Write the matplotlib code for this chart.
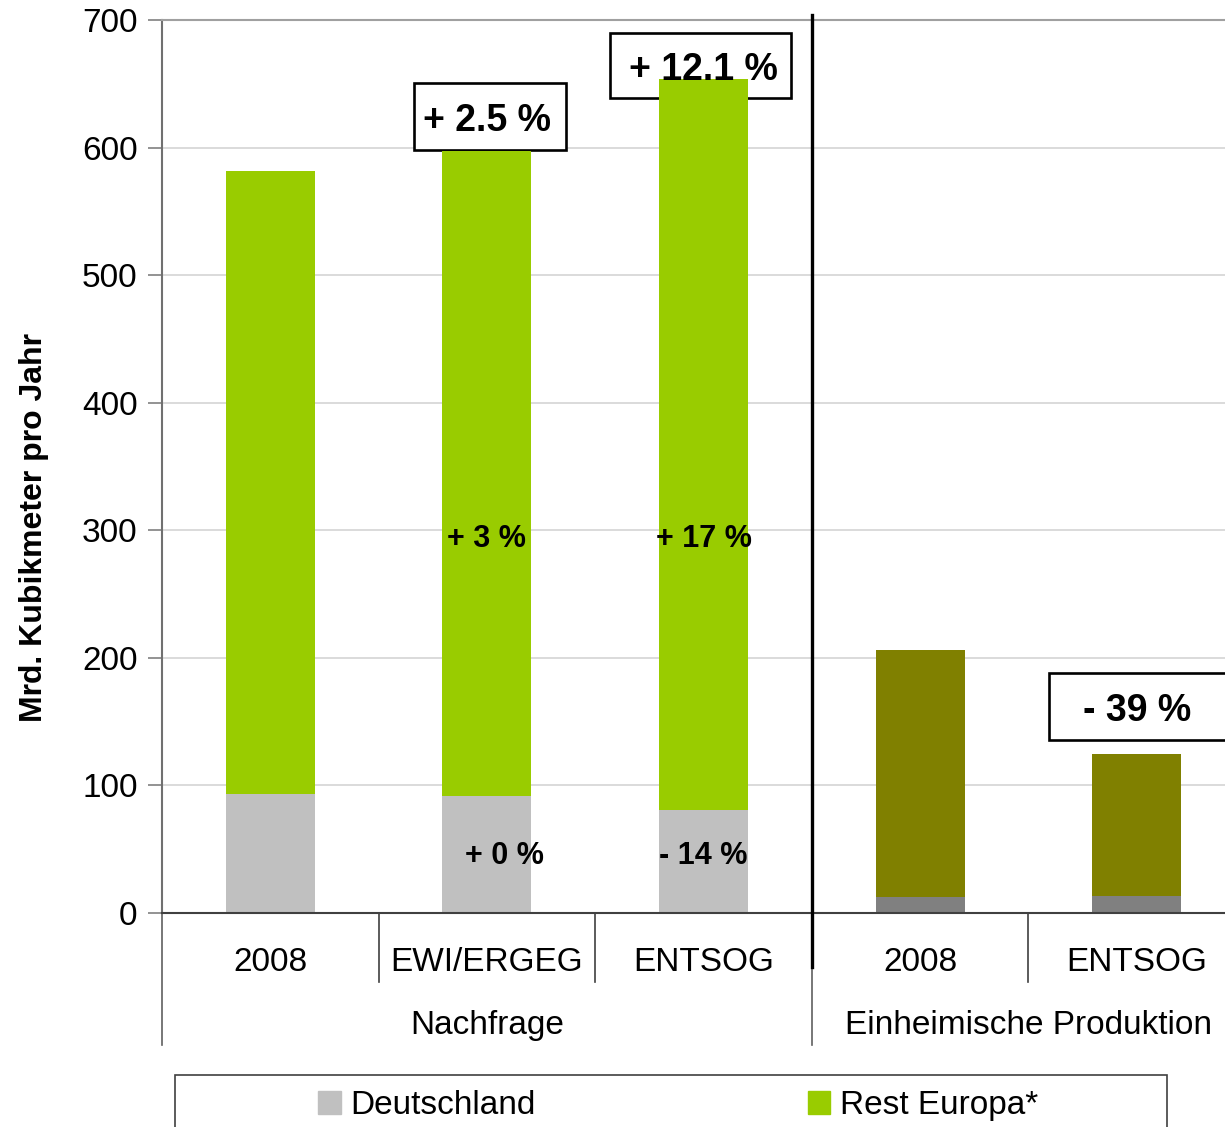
import matplotlib
matplotlib.use("Agg")
import matplotlib.pyplot as plt
from matplotlib.patches import Rectangle, Patch
import matplotlib.transforms as mtransforms

plt.rcParams['font.family'] = ['Liberation Sans', 'DejaVu Sans']

# ---------------- data ----------------
categories = ["2008", "EWI/ERGEG", "ENTSOG", "2008", "ENTSOG"]
groups = ["Nachfrage", "Einheimische Produktion"]
group_centers = [1.0, 3.5]
deutschland = [93.5, 92, 80.5, 12.5, 13.5]
rest_europa = [488, 505, 573, 193.5, 111]
total_labels = ["", "+ 2.5 %", "+ 12.1 %", "", "- 39 %"]
rest_labels = ["", "+ 3 %", "+ 17 %", "", ""]
de_labels = ["", "+ 0 %", "- 14 %", "", ""]

col_de = ["#C0C0C0", "#C0C0C0", "#C0C0C0", "#808080", "#808080"]
col_rest = ["#99CC00", "#99CC00", "#99CC00", "#808000", "#808000"]

W, H = 1225, 1127
fig = plt.figure(figsize=(W / 100, H / 100), dpi=100)
# axes extends past the right figure edge like in the reference
ax = fig.add_axes([162 / W, (H - 913) / H, 1083 / W, 893 / H])

x = list(range(len(categories)))
ax.bar(x, deutschland, width=0.41, color=col_de, zorder=2)
ax.bar(x, rest_europa, width=0.41, bottom=deutschland, color=col_rest, zorder=2)

ax.set_xlim(-0.5, 4.5)
ax.set_ylim(0, 700)
ax.set_yticks(range(0, 701, 100))
ax.tick_params(axis='y', labelsize=24, length=10, width=1.2, color='#808080', pad=7.5)
ax.set_xticks([])
ax.yaxis.grid(True, color='#D4D4D4', linewidth=1.2, zorder=0)
ax.set_axisbelow(True)
ax.spines['left'].set_color('#707070')
ax.spines['left'].set_linewidth(1.5)
ax.spines['bottom'].set_color('#404040')
ax.spines['bottom'].set_linewidth(1.5)
ax.spines['top'].set_color('#A0A0A0')
ax.spines['top'].set_linewidth(1.5)
ax.spines['right'].set_visible(False)

ax.set_ylabel("Mrd. Kubikmeter pro Jahr", fontsize=23, fontweight='bold')
ax.yaxis.set_label_coords(-0.104, 0.432)

# boxed change labels: box sits behind the bars, text in front
box_x = [0, 1.014, 1.987, 0, 4.013]
box_y = [0, 624.5, 664.5, 0, 162]
box_w = [0, 0.70, 0.835, 0, 0.84]
box_h = [0, 52.5, 51, 0, 52.5]
for i, lab in enumerate(total_labels):
    if lab:
        ax.add_patch(Rectangle((box_x[i] - box_w[i] / 2, box_y[i] - box_h[i] / 2),
                               box_w[i], box_h[i], fc='white', ec='black', lw=1.9,
                               zorder=1.8, clip_on=False))
        ax.text(i, box_y[i] - 3.5, lab, ha='center', va='center', fontsize=27,
                fontweight='bold', zorder=5)
for i, lab in enumerate(rest_labels):
    if lab:
        ax.text(i, 293, lab, ha='center', va='center', fontsize=22, fontweight='bold', zorder=5)
de_x = [0, 1.08, 2.0, 0, 0]
for i, lab in enumerate(de_labels):
    if lab:
        ax.text(de_x[i], 45, lab, ha='center', va='center', fontsize=22, fontweight='bold', zorder=5)

# category axis below the plot
trans = mtransforms.blended_transform_factory(ax.transData, ax.transAxes)
for i, c in enumerate(categories):
    ax.text(i, -0.055, c, transform=trans, ha='center', va='center', fontsize=24)
for g, gc in zip(groups, group_centers):
    ax.text(gc, -0.126, g, transform=trans, ha='center', va='center', fontsize=24)
for xs in [0.5, 1.5, 3.5]:
    ax.plot([xs, xs], [0, -0.077], transform=trans, color='#404040', lw=1.2, clip_on=False)
for xs in [-0.5, 2.5]:
    ax.plot([xs, xs], [0, -0.148], transform=trans, color='#606060', lw=1.2, clip_on=False)
ax.plot([2.5, 2.5], [1.006, -0.06], transform=trans, color='black', lw=2.4, clip_on=False, zorder=6)

# legend
handles = [Patch(color="#C0C0C0", label="Deutschland"),
           Patch(color="#99CC00", label="Rest Europa*")]
fig.legend(handles=handles, loc='upper left', bbox_to_anchor=(318 / W, (H - 1090) / H),
           ncol=2, frameon=False, fontsize=24, handlelength=0.68, handleheight=0.68,
           handletextpad=0.3, columnspacing=8.15, borderpad=0, borderaxespad=0)
fig.patches.append(Rectangle((175 / W, -0.05), 992 / W, 0.05 + (H - 1075) / H,
                             transform=fig.transFigure, fill=False, ec='#404040', lw=1.2))

fig.savefig("out.png", dpi=100)
